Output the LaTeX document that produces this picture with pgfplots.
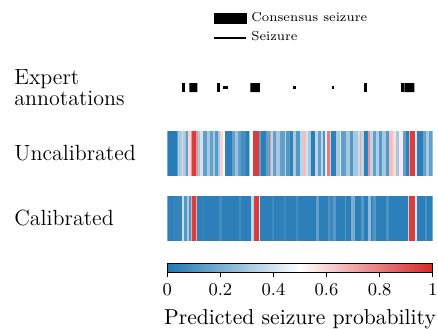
\documentclass[border=0pt]{standalone}
\usepackage{pgfplots}
\usepackage{pgfplotstable}
\pgfplotsset{compat=1.18}
\pgfplotsset{colormap={tabbr}{rgb255=(31,119,180) rgb255=(255,255,255) rgb255=(214,39,40)}}

\pgfplotstableread{
z c
22 0.02
50 0.15
55 0.3
65 0.6
70 0.3
77 0.15
85 0.6
92 0.75
95 0.95
108 0.75
115 0.3
120 0.4
130 0.15
140 0.3
150 0.15
160 0.3
165 0.12
175 0.3
180 0.6
190 0.48
195 0.03
215 0.15
225 0.28
235 0.15
245 0.08
258 0.02
268 0.3
272 0.48
280 0.95
298 0.15
303 0.03
320 0.15
330 0.75
335 0.35
340 0.15
350 0.3
360 0.15
375 0.35
380 0.12
390 0.05
400 0.3
410 0.12
420 0.35
430 0.65
438 0.4
445 0.3
455 0.03
465 0.35
475 0.15
485 0.35
490 0.1
497 0.45
503 0.8
510 0.35
515 0.03
530 0.3
540 0.42
545 0.15
560 0.3
570 0.12
580 0.3
595 0.38
600 0.7
605 0.35
612 0.03
625 0.75
630 0.35
640 0.15
650 0.32
660 0.12
668 0.3
680 0.12
690 0.65
700 0.58
710 0.3
718 0.55
730 0.15
740 0.03
748 0.7
752 0.95
768 0.4
772 0.03
790 0.15
800 0.3
810 0.15
820 0.15
}\uncal

\pgfplotstableread{
z c
22 0.03
40 0.05
65 0.38
72 0.12
80 0.3
88 0.1
92 0.7
95 0.95
108 0.7
110 0.03
125 0.06
130 0.03
178 0.08
185 0.03
238 0.08
245 0.03
275 0.35
282 0.95
298 0.4
302 0.03
338 0.07
343 0.03
373 0.07
378 0.03
408 0.08
414 0.03
470 0.15
478 0.03
505 0.1
512 0.06
520 0.12
528 0.03
555 0.12
560 0.03
575 0.2
585 0.03
605 0.12
612 0.03
625 0.25
633 0.05
640 0.12
648 0.03
680 0.1
688 0.03
745 0.35
750 0.95
768 0.4
772 0.03
798 0.1
803 0.03
820 0.03
}\cal

\begin{document}
\begin{tikzpicture}
\path[use as bounding box] (0,0) rectangle (219pt,-164pt);

% row labels
\node[anchor=base west, inner sep=0pt, font=\fontsize{11}{10.5}\selectfont] at (7pt,-42pt) {Expert};
\node[anchor=base west, inner sep=0pt, font=\fontsize{11}{10.5}\selectfont] at (7pt,-52.5pt) {annotations};
\node[anchor=base west, inner sep=0pt, font=\fontsize{11}{10.5}\selectfont] at (7pt,-80pt) {Uncalibrated};
\node[anchor=base west, inner sep=0pt, font=\fontsize{11}{10.5}\selectfont] at (7pt,-112.5pt) {Calibrated};

% expert annotations
\begin{axis}[at={(83.67pt,-40pt)}, anchor=north west, scale only axis,
  width=132.67pt, height=8pt, xmin=22, xmax=820, ymin=80, ymax=96, y dir=reverse,
  hide axis, clip=false, unbounded coords=jump,
  legend style={at={(0.172,5.5)}, anchor=north west, draw=none, fill=none,
    inner sep=0pt, font=\fontsize{6.5}{7}\selectfont, row sep=-0.5pt},
  legend cell align=left]
\addplot[black, line width=1.5pt, forget plot] coordinates {(65,84.5)(75,84.5)(76,nan)(172,84.5)(180,84.5)(181,nan)(614,84.5)(622,84.5)(623,nan)(725,84.5)(733,84.5)};
\addplot[black, line width=1.5pt, forget plot] coordinates {(65,87.5)(75,87.5)(76,nan)(172,87.5)(180,87.5)(181,nan)(190,87.5)(205,87.5)(206,nan)(400,87.5)(408,87.5)(409,nan)(517,87.5)(524,87.5)(525,nan)(614,87.5)(622,87.5)(623,nan)(725,87.5)(733,87.5)};
\addplot[black, line width=1.5pt, forget plot] coordinates {(65,90.5)(75,90.5)(76,nan)(172,90.5)(180,90.5)(181,nan)(614,90.5)(622,90.5)(623,nan)(725,90.5)(733,90.5)};
\addplot[fill=black, draw=none, forget plot] coordinates {(88,83)(112,83)(112,92)(88,92)(88,83)};
\addplot[fill=black, draw=none, forget plot] coordinates {(272,83)(300,83)(300,92)(272,92)(272,83)};
\addplot[fill=black, draw=none, forget plot] coordinates {(735,83)(765,83)(765,92)(735,92)(735,83)};
\addlegendimage{legend image code/.code={\fill[black] (0pt,-2.5pt) rectangle (16pt,2.5pt);}}
\addlegendentry{Consensus seizure}
\addlegendimage{legend image code/.code={\draw[black, line width=1pt] (0pt,0pt) -- (16pt,0pt);}}
\addlegendentry{Seizure}
\end{axis}

% uncalibrated
\begin{axis}[at={(83.67pt,-65.5pt)}, anchor=north west, scale only axis,
  width=132.67pt, height=22.5pt, xmin=22, xmax=820, ymin=0, ymax=1,
  hide axis, point meta min=0, point meta max=1]
\addplot[mesh, shader=flat corner, line width=22.5pt, point meta=explicit]
  table[x=z, y expr=0.5, meta=c] {\uncal};
\end{axis}

% calibrated + colorbar
\begin{axis}[at={(83.67pt,-98pt)}, anchor=north west, scale only axis,
  width=132.67pt, height=22.5pt, xmin=22, xmax=820, ymin=0, ymax=1,
  hide axis, point meta min=0, point meta max=1,
  colorbar horizontal,
  colorbar style={at={(0,-0.4889)}, anchor=north west, scale only axis,
    width=132.67pt, height=4.5pt,
    xtick={0,0.2,0.4,0.6,0.8,1}, xtick pos=left, xtick align=outside,
    major tick length=2.5pt, major tick style={black, line width=0.5pt},
    axis line style={black, line width=0.5pt},
    tick label style={font=\fontsize{8.6}{10}\selectfont},
    xlabel={Predicted seizure probability},
    xlabel style={font=\fontsize{10.8}{12}\selectfont}}]
\addplot[mesh, shader=flat corner, line width=22.5pt, point meta=explicit]
  table[x=z, y expr=0.5, meta=c] {\cal};
\end{axis}
\end{tikzpicture}
\end{document}
